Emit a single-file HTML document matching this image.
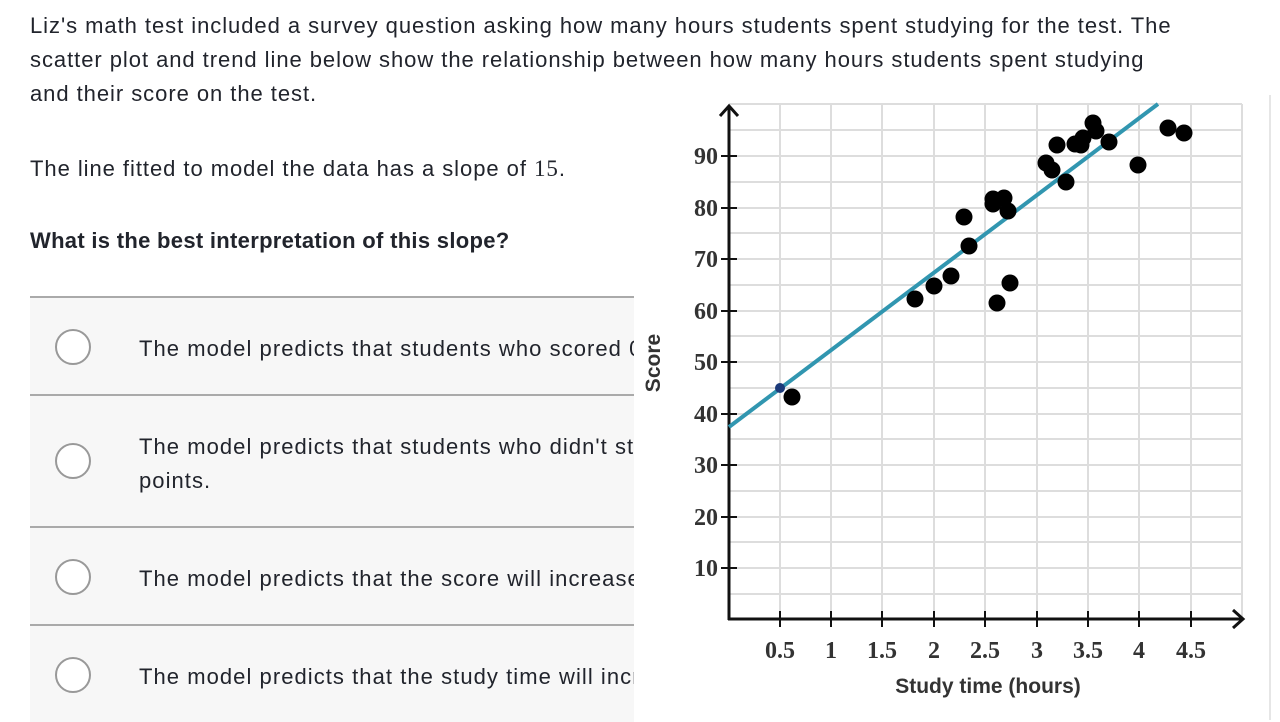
<!DOCTYPE html>
<html><head><meta charset="utf-8"><style>
body{margin:0;width:1280px;height:720px;background:#fff;position:relative;overflow:hidden;font-family:"Liberation Sans",sans-serif;color:#21242c}
.p{position:absolute;left:30px;font-size:22px;line-height:34px;letter-spacing:0.95px}
.opt{position:absolute;left:30px;width:604px;background:#f7f7f7;border-top:2px solid #aaa;overflow:hidden}
.c{position:absolute;left:25px;width:36px;height:36px;border:2px solid #999;border-radius:50%;background:#fff;box-sizing:border-box}
.t{position:absolute;left:109px;font-size:22px;line-height:34px;white-space:nowrap;letter-spacing:1.05px}
</style></head><body>
<div class="p" style="top:9px;width:1148px">Liz's math test included a survey question asking how many hours students spent studying for the test. The scatter plot and trend line below show the relationship between how many hours students spent studying and their score on the test.</div>
<div class="p" style="top:152px">The line fitted to model the data has a slope of <span style="font-family:'Liberation Serif',serif;font-size:23px">15</span>.</div>
<div class="p" style="top:224px;font-weight:bold;letter-spacing:0.3px">What is the best interpretation of this slope?</div>
<div class="opt" style="top:296px;height:97px"><div class="c" style="top:31px"></div><div class="t" style="top:34px">The model predicts that students who scored 0 points</div></div>
<div class="opt" style="top:394px;height:131px"><div class="c" style="top:47px"></div><div class="t" style="top:34px">The model predicts that students who didn't study<br>points.</div></div>
<div class="opt" style="top:526px;height:97px"><div class="c" style="top:31px"></div><div class="t" style="top:34px">The model predicts that the score will increase by</div></div>
<div class="opt" style="top:624px;height:96px"><div class="c" style="top:31px"></div><div class="t" style="top:34px">The model predicts that the study time will increase</div></div>
<svg width="1280" height="720" style="position:absolute;left:0;top:0">
<rect x="634" y="95" width="636" height="622" fill="#fff"/>
<line x1="1270" y1="95" x2="1270" y2="720" stroke="#e6e6e6" stroke-width="2"/>
<g stroke="#ddd" stroke-width="2">
<line x1="780" y1="104" x2="780" y2="619"/><line x1="831" y1="104" x2="831" y2="619"/><line x1="882" y1="104" x2="882" y2="619"/><line x1="934" y1="104" x2="934" y2="619"/><line x1="985" y1="104" x2="985" y2="619"/><line x1="1037" y1="104" x2="1037" y2="619"/><line x1="1088" y1="104" x2="1088" y2="619"/><line x1="1139" y1="104" x2="1139" y2="619"/><line x1="1191" y1="104" x2="1191" y2="619"/><line x1="1242" y1="104" x2="1242" y2="619"/>
<line x1="729" y1="104" x2="1242" y2="104"/><line x1="729" y1="130" x2="1242" y2="130"/><line x1="729" y1="156" x2="1242" y2="156"/><line x1="729" y1="182" x2="1242" y2="182"/><line x1="729" y1="208" x2="1242" y2="208"/><line x1="729" y1="233" x2="1242" y2="233"/><line x1="729" y1="259" x2="1242" y2="259"/><line x1="729" y1="285" x2="1242" y2="285"/><line x1="729" y1="311" x2="1242" y2="311"/><line x1="729" y1="336" x2="1242" y2="336"/><line x1="729" y1="362" x2="1242" y2="362"/><line x1="729" y1="388" x2="1242" y2="388"/><line x1="729" y1="414" x2="1242" y2="414"/><line x1="729" y1="439" x2="1242" y2="439"/><line x1="729" y1="465" x2="1242" y2="465"/><line x1="729" y1="491" x2="1242" y2="491"/><line x1="729" y1="517" x2="1242" y2="517"/><line x1="729" y1="542" x2="1242" y2="542"/><line x1="729" y1="568" x2="1242" y2="568"/><line x1="729" y1="594" x2="1242" y2="594"/>
</g>
<g stroke="#111" stroke-width="3" fill="none">
<line x1="729" y1="108" x2="729" y2="620"/><line x1="728" y1="619" x2="1243" y2="619"/>
<polyline points="720,116 729,106 738,116"/><polyline points="1233,610 1243,619 1233,628"/>
<g stroke-width="2"><line x1="780" y1="611" x2="780" y2="627"/><line x1="831" y1="611" x2="831" y2="627"/><line x1="882" y1="611" x2="882" y2="627"/><line x1="934" y1="611" x2="934" y2="627"/><line x1="985" y1="611" x2="985" y2="627"/><line x1="1037" y1="611" x2="1037" y2="627"/><line x1="1088" y1="611" x2="1088" y2="627"/><line x1="1139" y1="611" x2="1139" y2="627"/><line x1="1191" y1="611" x2="1191" y2="627"/>
<line x1="721" y1="156" x2="737" y2="156"/><line x1="721" y1="208" x2="737" y2="208"/><line x1="721" y1="259" x2="737" y2="259"/><line x1="721" y1="311" x2="737" y2="311"/><line x1="721" y1="362" x2="737" y2="362"/><line x1="721" y1="414" x2="737" y2="414"/><line x1="721" y1="465" x2="737" y2="465"/><line x1="721" y1="517" x2="737" y2="517"/><line x1="721" y1="568" x2="737" y2="568"/></g>
</g>
<g font-family="Liberation Serif,serif" font-size="24" fill="#333" text-anchor="end" font-weight="bold">
<text x="718" y="164">90</text><text x="718" y="216">80</text><text x="718" y="267">70</text><text x="718" y="319">60</text><text x="718" y="370">50</text><text x="718" y="422">40</text><text x="718" y="473">30</text><text x="718" y="525">20</text><text x="718" y="576">10</text>
</g>
<g font-family="Liberation Serif,serif" font-size="24" fill="#333" text-anchor="middle" font-weight="bold">
<text x="780" y="658">0.5</text><text x="831" y="658">1</text><text x="882" y="658">1.5</text><text x="934" y="658">2</text><text x="985" y="658">2.5</text><text x="1037" y="658">3</text><text x="1088" y="658">3.5</text><text x="1139" y="658">4</text><text x="1191" y="658">4.5</text>
</g>
<text x="988" y="693" font-size="21" font-weight="bold" fill="#333" text-anchor="middle">Study time (hours)</text>
<text transform="translate(660,363) rotate(-90)" font-size="21" font-weight="bold" fill="#333" text-anchor="middle">Score</text>
<line x1="729" y1="427" x2="1158" y2="104" stroke="#3196b0" stroke-width="4"/>
<g fill="#000">
<circle cx="792" cy="397" r="8.5"/><circle cx="915" cy="299" r="8.5"/><circle cx="934" cy="286" r="8.5"/><circle cx="951" cy="276" r="8.5"/><circle cx="964" cy="217" r="8.5"/><circle cx="969" cy="246" r="8.5"/><circle cx="993" cy="199" r="8.5"/><circle cx="993" cy="204" r="8.5"/><circle cx="1004" cy="198" r="8.5"/><circle cx="1008" cy="211" r="8.5"/><circle cx="997" cy="303" r="8.5"/><circle cx="1010" cy="283" r="8.5"/><circle cx="1046" cy="163" r="8.5"/><circle cx="1052" cy="170" r="8.5"/><circle cx="1057" cy="145" r="8.5"/><circle cx="1066" cy="182" r="8.5"/><circle cx="1075" cy="144" r="8.5"/><circle cx="1081" cy="145" r="8.5"/><circle cx="1083" cy="138" r="8.5"/><circle cx="1093" cy="123" r="8.5"/><circle cx="1096" cy="131" r="8.5"/><circle cx="1109" cy="142" r="8.5"/><circle cx="1138" cy="165" r="8.5"/><circle cx="1168" cy="128" r="8.5"/><circle cx="1184" cy="133" r="8.5"/>
</g>
<circle cx="780" cy="388" r="5" fill="#1c3a7a"/>
</svg>
</body></html>
